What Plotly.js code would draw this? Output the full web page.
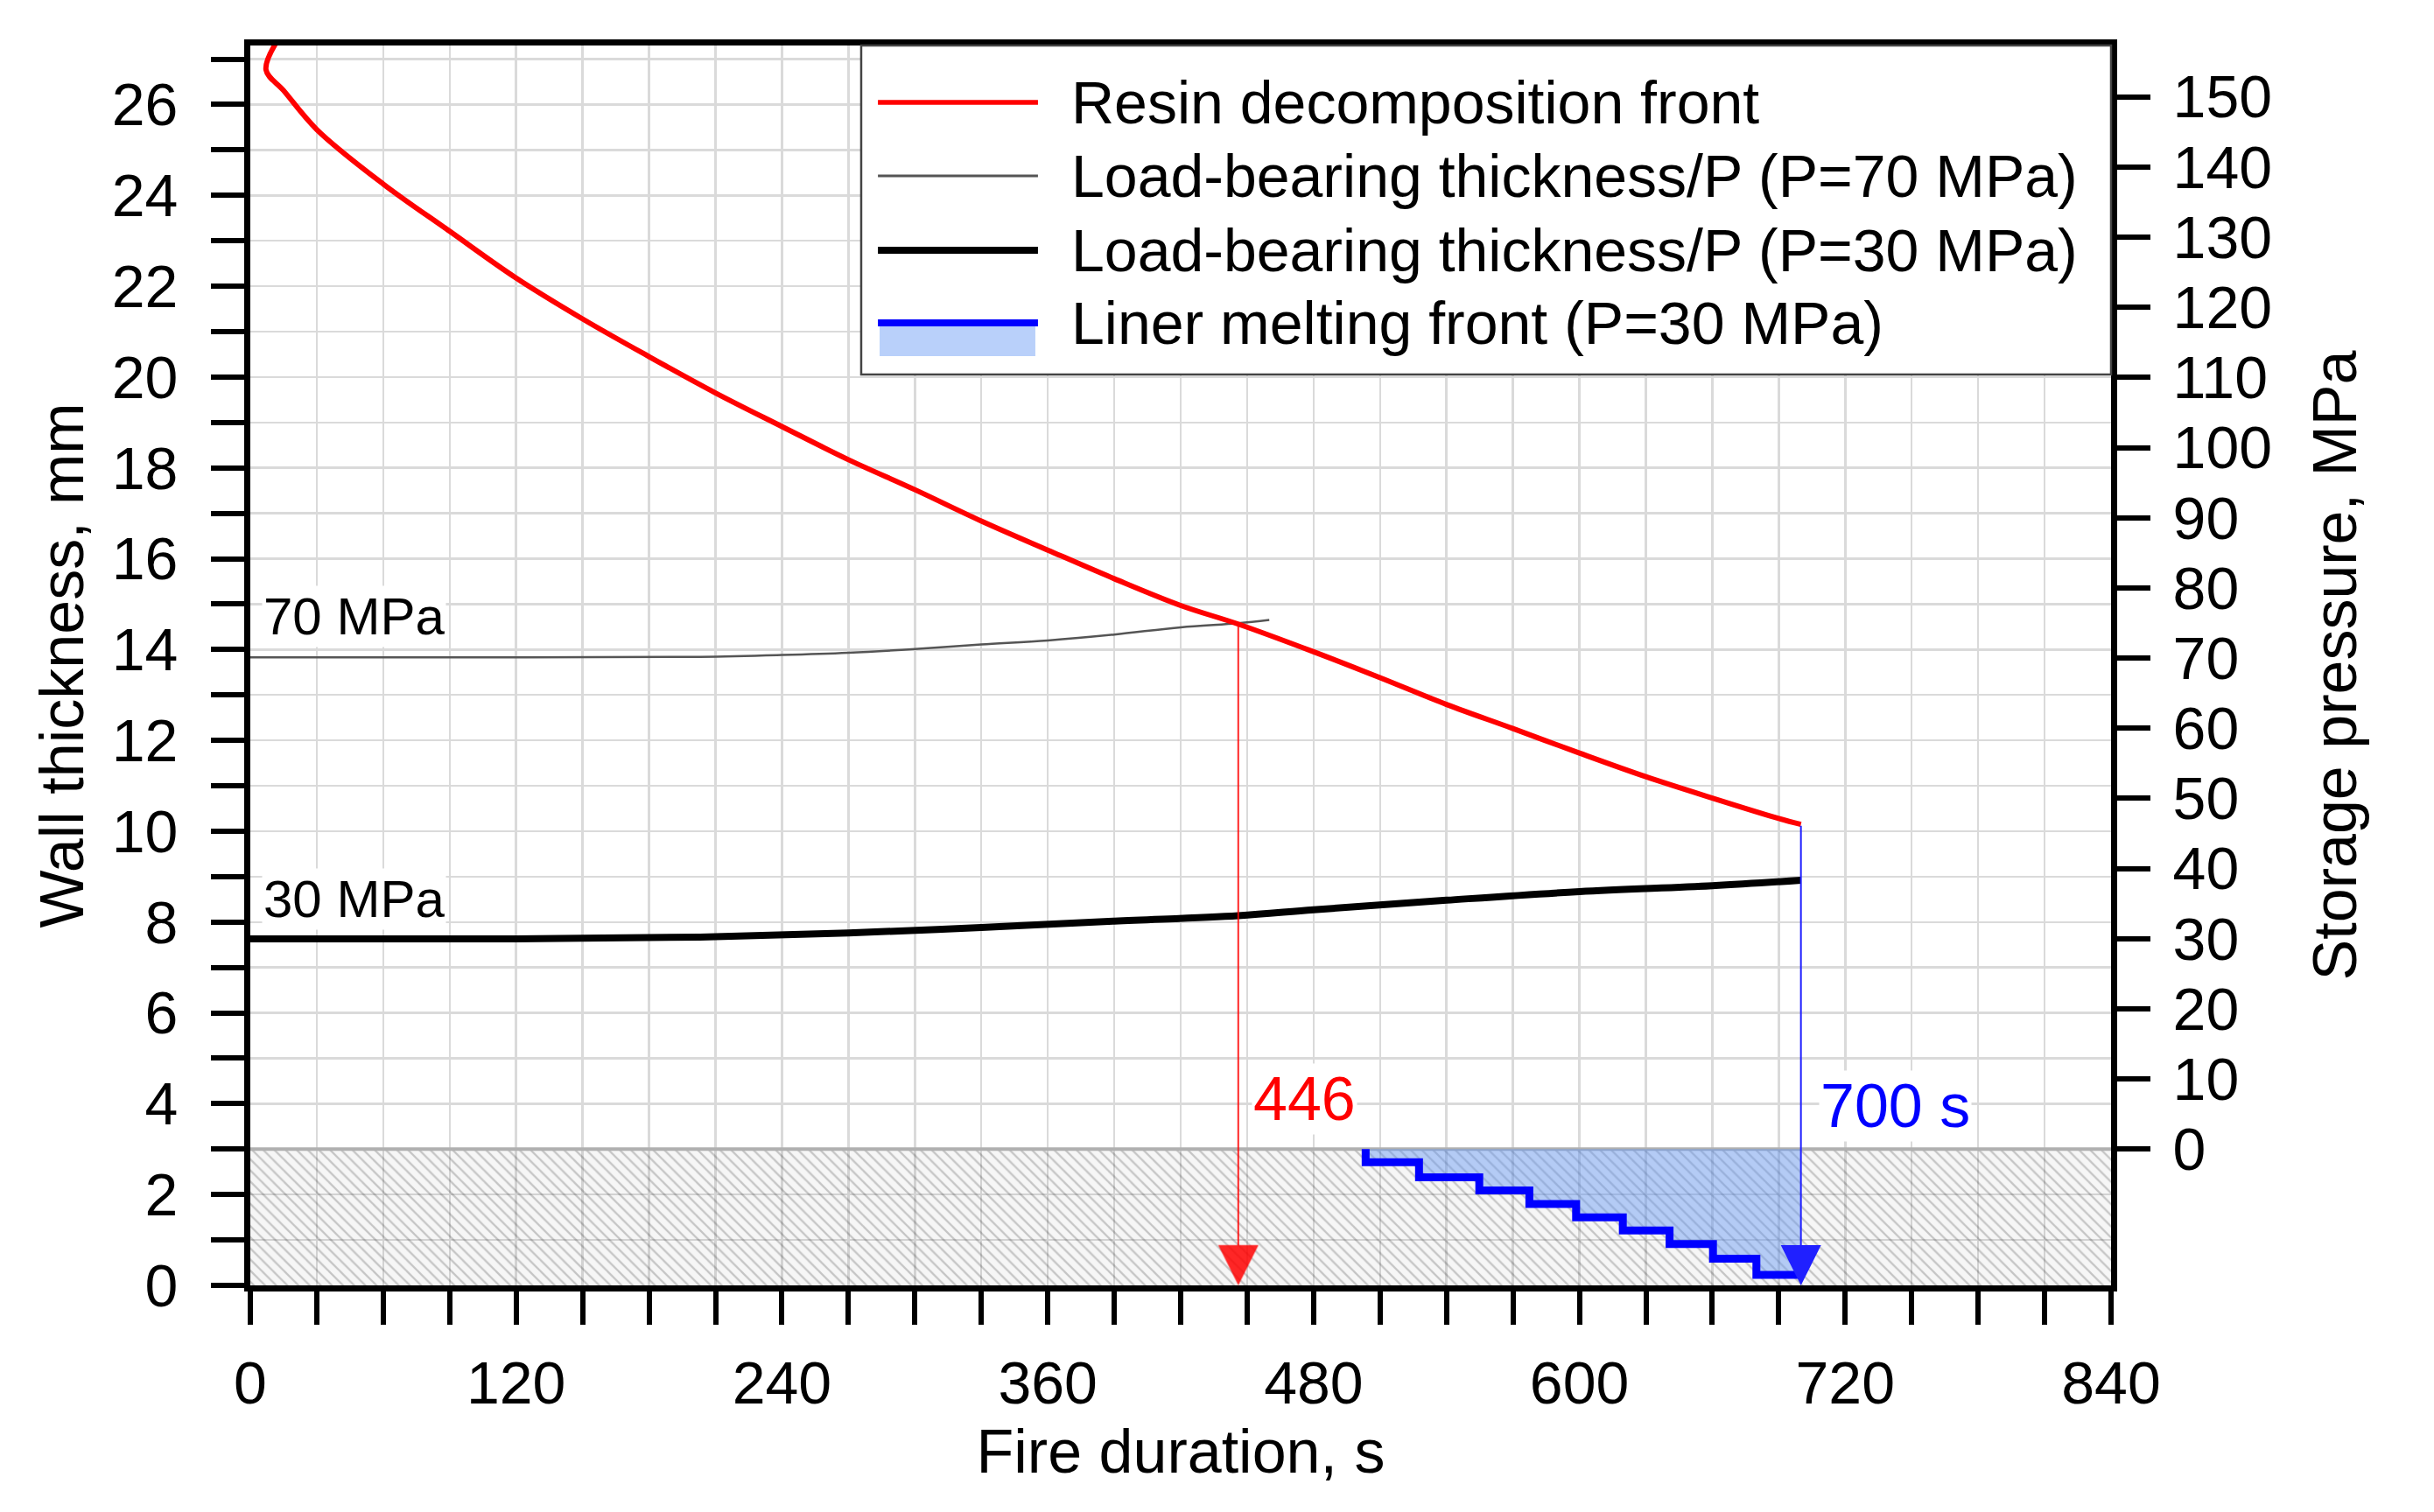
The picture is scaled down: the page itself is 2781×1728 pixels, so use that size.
<!DOCTYPE html>
<html>
<head>
<meta charset="utf-8">
<script src="https://cdn.plot.ly/plotly-3.0.1.min.js"></script>
<style>
  html, body { margin: 0; padding: 0; background: #fff; }
  #grafico { width: 2781px; height: 1728px; }
</style>
</head>
<body>
<div id="grafico"></div>
<script>
// frente de decomposicao da resina (s, mm)
let resinaX = [11.5, 7.1, 15, 30, 60, 90, 120, 150, 180, 210, 240, 270, 300, 330, 360, 390, 420, 446, 480, 510, 540, 570, 600, 630, 660, 690, 700];
let resinaY = [27.35, 26.76, 26.31, 25.45, 24.25, 23.21, 22.18, 21.28, 20.45, 19.65, 18.91, 18.18, 17.52, 16.83, 16.19, 15.56, 14.97, 14.56, 13.95, 13.38, 12.79, 12.26, 11.72, 11.20, 10.73, 10.28, 10.15];

// espessura resistente, P=70 MPa
let p70X = [0, 120, 203, 240, 270, 300, 330, 360, 390, 420, 446, 460];
let p70Y = [13.83, 13.83, 13.84, 13.88, 13.93, 14.01, 14.11, 14.20, 14.33, 14.49, 14.58, 14.65];

// espessura resistente, P=30 MPa
let p30X = [0, 120, 203, 270, 330, 390, 446, 480, 540, 600, 660, 700];
let p30Y = [7.63, 7.63, 7.67, 7.76, 7.88, 8.02, 8.14, 8.27, 8.48, 8.67, 8.80, 8.92];

// frente de fusao do liner (degraus)
let linerFusaoX = [503.5, 503.5, 527.6, 554.8, 577.4, 598.5, 619.6, 640.7, 660.3, 679.9, 700];
let linerFusaoY = [3.0, 2.71, 2.38, 2.09, 1.79, 1.50, 1.21, 0.91, 0.59, 0.23, 0.23];
let linerTopoX = [503.5, 700];
let linerTopoY = [3, 3];

// camada do liner (hachurada)
let camadaX = [0, 840];
let camadaY = [3, 3];

// tempos marcados
let tempoResina = 446;
let tempoLiner = 700;
let espResina = 14.56;
let espLiner = 10.15;

// ticks
let xTicks = [0, 30, 60, 90, 120, 150, 180, 210, 240, 270, 300, 330, 360, 390, 420, 450, 480, 510, 540, 570, 600, 630, 660, 690, 720, 750, 780, 810, 840];
let xTickText = ['0', '', '', '', '120', '', '', '', '240', '', '', '', '360', '', '', '', '480', '', '', '', '600', '', '', '', '720', '', '', '', '840'];
let yTicks = [0, 1, 2, 3, 4, 5, 6, 7, 8, 9, 10, 11, 12, 13, 14, 15, 16, 17, 18, 19, 20, 21, 22, 23, 24, 25, 26, 27];
let yTickText = ['0', '', '2', '', '4', '', '6', '', '8', '', '10', '', '12', '', '14', '', '16', '', '18', '', '20', '', '22', '', '24', '', '26', ''];
let y2Ticks = [0, 10, 20, 30, 40, 50, 60, 70, 80, 90, 100, 110, 120, 130, 140, 150];

let legendas = ['Resin decomposition front', 'Load-bearing thickness/P (P=70 MPa)', 'Load-bearing thickness/P (P=30 MPa)', 'Liner melting front (P=30 MPa)'];

let fonte = 'Arial, "Liberation Sans", sans-serif';

let trace1 = {
  x: camadaX, y: camadaY, type: 'scatter', mode: 'lines',
  fill: 'tozeroy',
  fillcolor: 'rgba(0,0,0,0.03)',
  fillpattern: { shape: '\\', fgcolor: 'rgba(0,0,0,0.2)', bgcolor: 'rgba(0,0,0,0.035)', size: 9, solidity: 0.25 },
  line: { color: '#b0b0b0', width: 4 },
  showlegend: false, hoverinfo: 'skip'
};

let trace2 = {
  x: linerTopoX, y: linerTopoY, type: 'scatter', mode: 'lines',
  line: { width: 0, color: 'rgba(0,0,0,0)' },
  showlegend: false, hoverinfo: 'skip'
};

let trace3 = {
  x: linerFusaoX, y: linerFusaoY, type: 'scatter', mode: 'lines',
  line: { color: '#0000ff', width: 9, shape: 'hv' },
  fill: 'tonexty', fillcolor: 'rgba(100,150,245,0.45)',
  showlegend: false
};

let trace4 = {
  x: p70X, y: p70Y, type: 'scatter', mode: 'lines',
  line: { color: '#555555', width: 2.5, shape: 'spline', smoothing: 1 },
  showlegend: false
};

let trace5 = {
  x: p30X, y: p30Y, type: 'scatter', mode: 'lines',
  line: { color: '#000000', width: 8, shape: 'spline', smoothing: 1 },
  showlegend: false
};

let trace6 = {
  x: resinaX, y: resinaY, type: 'scatter', mode: 'lines',
  line: { color: '#ff0000', width: 6, shape: 'spline', smoothing: 1 },
  showlegend: false
};

// legenda desenhada a mao (linhas longas como no original)
let legX0 = 0.3283, legX1 = 1.0, legY0 = 0.7347, legY1 = 1.0;
let linX0 = 0.3373, linX1 = 0.4233, txtX = 0.4403;
let linhasY = [0.9541, 0.8949, 0.8349, 0.7763];

let shapes = [
  { type: 'rect', xref: 'paper', yref: 'paper', x0: legX0, x1: legX1, y0: legY0, y1: legY1,
    fillcolor: '#ffffff', line: { color: '#444444', width: 2.5 } },
  { type: 'line', xref: 'paper', yref: 'paper', x0: linX0, x1: linX1, y0: linhasY[0], y1: linhasY[0],
    line: { color: '#ff0000', width: 5.5 } },
  { type: 'line', xref: 'paper', yref: 'paper', x0: linX0, x1: linX1, y0: linhasY[1], y1: linhasY[1],
    line: { color: '#555555', width: 3 } },
  { type: 'line', xref: 'paper', yref: 'paper', x0: linX0, x1: linX1, y0: linhasY[2], y1: linhasY[2],
    line: { color: '#000000', width: 8 } },
  { type: 'rect', xref: 'paper', yref: 'paper', x0: 0.3382, x1: 0.4219, y0: 0.7495, y1: linhasY[3],
    fillcolor: 'rgba(100,150,245,0.45)', line: { width: 0 } },
  { type: 'line', xref: 'paper', yref: 'paper', x0: linX0, x1: linX1, y0: linhasY[3], y1: linhasY[3],
    line: { color: '#0000ff', width: 8 } }
];

let annotations = [];
for (let k = 0; k < legendas.length; k++) {
  annotations.push({
    xref: 'paper', yref: 'paper', x: txtX, y: linhasY[k], xanchor: 'left', yanchor: 'middle',
    text: legendas[k], showarrow: false, font: { family: fonte, size: 68, color: '#000' }
  });
}

// setas verticais
annotations.push({
  x: tempoResina, y: 0, ax: tempoResina, ay: espResina, xref: 'x', yref: 'y', axref: 'x', ayref: 'y',
  text: '', showarrow: true, arrowhead: 2, arrowsize: 4.6, arrowwidth: 2, arrowcolor: 'rgba(255,0,0,0.85)', standoff: 0
});
annotations.push({
  x: tempoLiner, y: 0, ax: tempoLiner, ay: espLiner, xref: 'x', yref: 'y', axref: 'x', ayref: 'y',
  text: '', showarrow: true, arrowhead: 2, arrowsize: 4.6, arrowwidth: 2, arrowcolor: '#2020ff', standoff: 0
});

annotations.push({ x: 452, y: 4.11, xref: 'x', yref: 'y', xanchor: 'left', yanchor: 'middle',
  text: '446', showarrow: false, bgcolor: '#ffffff', font: { family: fonte, size: 70, color: '#ff0000' } });
annotations.push({ x: 708, y: 3.95, xref: 'x', yref: 'y', xanchor: 'left', yanchor: 'middle',
  text: '700 s', showarrow: false, bgcolor: '#ffffff', font: { family: fonte, size: 70, color: '#0000ff' } });
annotations.push({ x: 5, y: 14.72, xref: 'x', yref: 'y', xanchor: 'left', yanchor: 'middle',
  text: '70 MPa', showarrow: false, bgcolor: '#ffffff', font: { family: fonte, size: 60, color: '#000' } });
annotations.push({ x: 5, y: 8.5, xref: 'x', yref: 'y', xanchor: 'left', yanchor: 'middle',
  text: '30 MPa', showarrow: false, bgcolor: '#ffffff', font: { family: fonte, size: 60, color: '#000' } });

let data = [trace1, trace2, trace3, trace4, trace5, trace6];

let eixoBase = {
  showline: true, linecolor: '#000', linewidth: 7,
  ticks: 'outside', ticklen: 38, tickwidth: 6, tickcolor: '#000',
  zeroline: false,
  tickfont: { family: fonte, size: 68, color: '#000' }
};

let layout = {
  width: 2781,
  height: 1728,
  margin: { l: 286, r: 369, t: 52, b: 259 },
  paper_bgcolor: '#ffffff',
  plot_bgcolor: '#ffffff',
  font: { family: fonte, color: '#000' },
  showlegend: false,
  xaxis: Object.assign({}, eixoBase, {
    range: [0, 840], tickmode: 'array', tickvals: xTicks, ticktext: xTickText,
    mirror: true, showgrid: true, gridcolor: '#dadada', gridwidth: 2.5,
    ticklabelstandoff: 8,
    title: { text: 'Fire duration, s', font: { family: fonte, size: 70, color: '#000' }, standoff: 20 }
  }),
  yaxis: Object.assign({}, eixoBase, {
    range: [0, 27.3], tickmode: 'array', tickvals: yTicks, ticktext: yTickText,
    showgrid: true, gridcolor: '#dadada', gridwidth: 2.5,
    ticklabelstandoff: 24,
    title: { text: 'Wall thickness, mm', font: { family: fonte, size: 70, color: '#000' }, standoff: 12 }
  }),
  yaxis2: Object.assign({}, eixoBase, {
    overlaying: 'y', side: 'right', anchor: 'x',
    range: [-19.4, 157.3], tickmode: 'array', tickvals: y2Ticks,
    showgrid: false,
    ticklabelstandoff: 12,
    title: { text: 'Storage pressure, MPa', font: { family: fonte, size: 70, color: '#000' }, standoff: 50 }
  }),
  shapes: shapes,
  annotations: annotations
};

// traco invisivel so para ativar o eixo da direita
data.push({ x: [0], y: [0], yaxis: 'y2', type: 'scatter', mode: 'markers',
  marker: { opacity: 0 }, showlegend: false, hoverinfo: 'skip' });

Plotly.newPlot('grafico', data, layout, { displayModeBar: false, staticPlot: true });
</script>
</body>
</html>
